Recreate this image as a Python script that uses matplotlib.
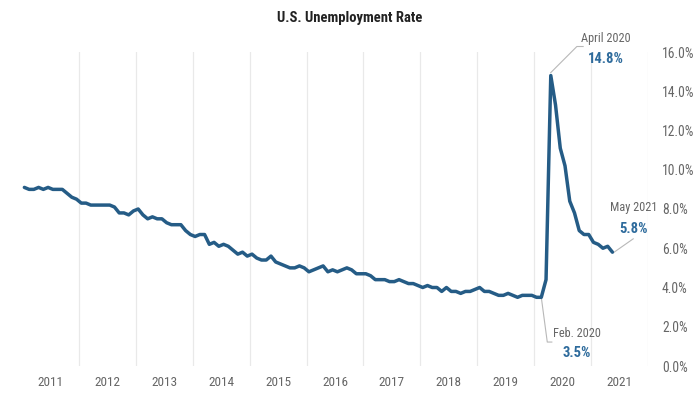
import numpy as np
from matplotlib import pyplot as plt
from matplotlib.ticker import FixedLocator, FuncFormatter

plt.rcParams['font.family'] = ['Roboto Condensed', 'Liberation Sans Narrow',
                               'Liberation Sans', 'DejaVu Sans']

START_YEAR = 2011

# monthly unemployment rate, %, Jan 2011 .. May 2021
RATE_2011 = [9.1, 9.0, 9.0, 9.1, 9.0, 9.1, 9.0, 9.0, 9.0, 8.8, 8.6, 8.5]
RATE_2012 = [8.3, 8.3, 8.2, 8.2, 8.2, 8.2, 8.2, 8.1, 7.8, 7.8, 7.7, 7.9]
RATE_2013 = [8.0, 7.7, 7.5, 7.6, 7.5, 7.5, 7.3, 7.2, 7.2, 7.2, 6.9, 6.7]
RATE_2014 = [6.6, 6.7, 6.7, 6.2, 6.3, 6.1, 6.2, 6.1, 5.9, 5.7, 5.8, 5.6]
RATE_2015 = [5.7, 5.5, 5.4, 5.4, 5.6, 5.3, 5.2, 5.1, 5.0, 5.0, 5.1, 5.0]
RATE_2016 = [4.8, 4.9, 5.0, 5.1, 4.8, 4.9, 4.8, 4.9, 5.0, 4.9, 4.7, 4.7]
RATE_2017 = [4.7, 4.6, 4.4, 4.4, 4.4, 4.3, 4.3, 4.4, 4.3, 4.2, 4.2, 4.1]
RATE_2018 = [4.0, 4.1, 4.0, 4.0, 3.8, 4.0, 3.8, 3.8, 3.7, 3.8, 3.8, 3.9]
RATE_2019 = [4.0, 3.8, 3.8, 3.7, 3.6, 3.6, 3.7, 3.6, 3.5, 3.6, 3.6, 3.6]
RATE_2020 = [3.5, 3.5, 4.4, 14.8, 13.3, 11.1, 10.2, 8.4, 7.8, 6.9, 6.7, 6.7]
RATE_2021 = [6.3, 6.2, 6.0, 6.1, 5.8]

YEARS = list(range(2011, 2022))
Y_TICKS = [0, 2, 4, 6, 8, 10, 12, 14, 16]

LINE_COLOR = '#255c86'
VALUE_COLOR = '#2e6b9c'
TEXT_GRAY = '#666666'
LEADER_GRAY = '#b8b8b8'


def month_pos(i):
    # mid-month position as fractional year
    return START_YEAR + (i + 0.5) / 12


def main():
    rate = (RATE_2011 + RATE_2012 + RATE_2013 + RATE_2014 + RATE_2015
            + RATE_2016 + RATE_2017 + RATE_2018 + RATE_2019 + RATE_2020
            + RATE_2021)
    x = np.array([month_pos(i) for i in range(len(rate))])
    y = np.array(rate)

    fig = plt.figure(figsize=(7, 3.99), dpi=100)
    ax = fig.add_axes([22 / 700, 33 / 399, 626 / 700, 314 / 399])

    ax.plot(x, y, c=LINE_COLOR, lw=2.5, solid_joinstyle='round',
            solid_capstyle='round', zorder=3)

    ax.set_xlim(2011, 2022)
    ax.set_ylim(0, 16)

    # year boundaries carry the grid, mid-years carry the labels
    ax.xaxis.set_major_locator(FixedLocator([yr + 1 for yr in YEARS]))
    ax.xaxis.set_minor_locator(FixedLocator([yr + 0.5 for yr in YEARS]))
    ax.xaxis.set_major_formatter(FuncFormatter(lambda v, p: ""))
    ax.xaxis.set_minor_formatter(FuncFormatter(lambda v, p: str(int(v))))
    ax.tick_params(axis='x', which='both', length=0, pad=7,
                   labelsize=9.5, labelcolor=TEXT_GRAY)
    ax.grid(axis='x', which='major', color='#e9e9e9', lw=0.9)

    ax.yaxis.tick_right()
    ax.set_yticks(Y_TICKS)
    ax.set_yticklabels(["%.1f%%" % v for v in Y_TICKS])
    ax.tick_params(axis='y', length=0, pad=10, labelsize=9.8,
                   labelcolor=TEXT_GRAY)

    for s in ax.spines.values():
        s.set_visible(False)

    # April 2020 peak
    i_peak = 15 + 12 * 8
    ax.plot([x[i_peak], 2020.75, 2020.86], [y[i_peak] + 0.15, 16.28, 16.28],
            c=LEADER_GRAY, lw=0.8, clip_on=False, zorder=2)
    ax.text(2021.25, 16.68, "April 2020", ha='center', va='center',
            fontsize=8.8, color=TEXT_GRAY, clip_on=False)
    ax.text(2021.25, 15.66, "%.1f%%" % y[i_peak], ha='center', va='center',
            fontsize=10.5, fontweight='bold', color=VALUE_COLOR)

    # Feb. 2020 low
    i_low = 13 + 12 * 8
    ax.plot([x[i_low], 2020.23, 2020.31], [y[i_low], 1.22, 1.22],
            c=LEADER_GRAY, lw=0.8, zorder=2)
    ax.text(2020.75, 1.68, "Feb. 2020", ha='center', va='center',
            fontsize=8.8, color=TEXT_GRAY)
    ax.text(2020.74, 0.66, "%.1f%%" % y[i_low], ha='center', va='center',
            fontsize=10.5, fontweight='bold', color=VALUE_COLOR)

    # May 2021 latest
    i_last = len(rate) - 1
    ax.plot([x[i_last] + 0.03, 2021.74], [y[i_last], 6.48],
            c=LEADER_GRAY, lw=0.8, zorder=2)
    ax.text(2021.74, 8.06, "May 2021", ha='center', va='center',
            fontsize=8.8, color=TEXT_GRAY)
    ax.text(2021.74, 6.99, "%.1f%%" % y[i_last], ha='center', va='center',
            fontsize=10.5, fontweight='bold', color=VALUE_COLOR)

    fig.text(0.5, 1 - 18 / 399, "U.S. Unemployment Rate", ha='center',
             va='center', fontsize=10.5, fontweight='bold', color='#222222')

    fig.savefig("out.png", dpi=100)
    plt.close(fig)


if __name__ == "__main__":
    main()
